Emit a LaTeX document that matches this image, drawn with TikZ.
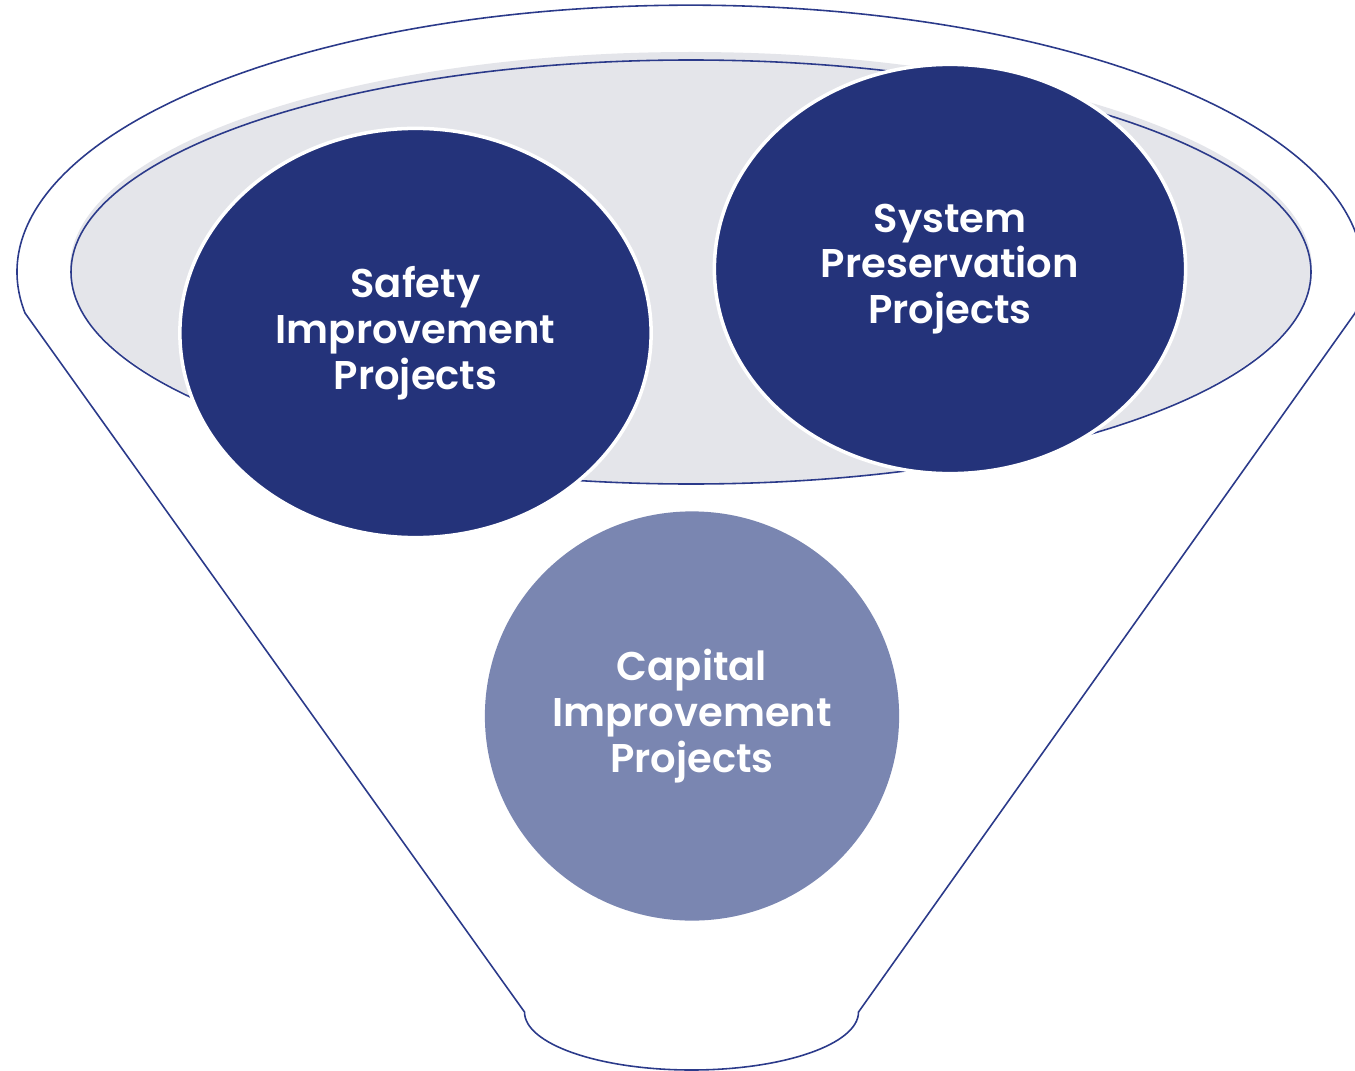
\documentclass[tikz,border=0pt]{standalone}
\usepackage{fontspec}
\setmainfont{Poppins}[BoldFont={Poppins SemiBold}]
\usetikzlibrary{shapes.geometric}
\definecolor{navy}{HTML}{24337A}
\definecolor{lightnavy}{HTML}{7A86B1}
\definecolor{funnelline}{HTML}{2B3A8A}
\definecolor{bowl}{HTML}{E4E5EA}
\tikzset{
  funnel/.style={draw=funnelline, line width=0.45pt},
  bubble/.style={ellipse, draw=white, line width=1pt, inner sep=0pt, minimum width=4.71cm, minimum height=4.09cm,
    text=white, font=\fontsize{11.4}{13.05}\selectfont\bfseries, align=center}
}
\begin{document}
\begin{tikzpicture}[x=0.01cm,y=-0.01cm]
\useasboundingbox (0,0) rectangle (1355,1070);
\clip (0,0) rectangle (1355,1070);
% outer funnel
\draw[funnel, fill=white] (25,313) arc[start angle=171.2, end angle=368.8, x radius=673, y radius=267]
  -- (858.5,1012) arc[start angle=0, end angle=180, x radius=167, y radius=58] -- cycle;
% bowl
\fill[bowl] (691,268) ellipse[x radius=621, y radius=216];
\draw[funnel] (691,272) ellipse[x radius=620, y radius=212];
% bubbles
\node[bubble, fill=navy] (safety) at (415.5,333) {Safety\\Improvement\\Projects};
\node[bubble, fill=navy] (system) at (950,269) {System\\Preservation\\Projects};
\node[bubble, fill=lightnavy, draw=none, minimum width=4.14cm] (capital) at (692,716) {Capital\\Improvement\\Projects};
\end{tikzpicture}
\end{document}
